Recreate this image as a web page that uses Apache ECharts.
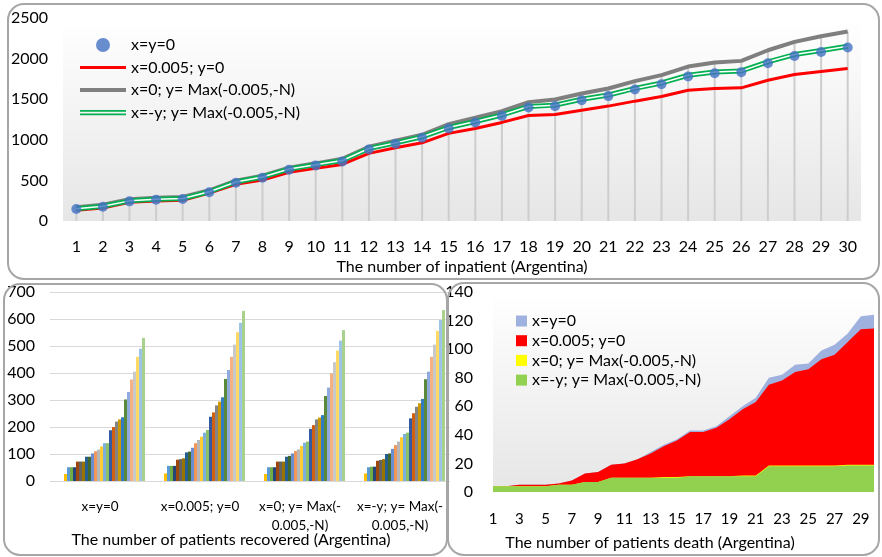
<!DOCTYPE html>
<html>
<head>
<meta charset="utf-8">
<script src="https://cdn.jsdelivr.net/npm/echarts@6/dist/echarts.min.js"></script>
<style>
  html, body { margin: 0; padding: 0; background: #fff; }
  #chart { width: 882px; height: 557px; }
</style>
</head>
<body>
<div id="chart"></div>
<script>
  // day labels (x axis of the inpatient and death panels)
  const days = ['1','2','3','4','5','6','7','8','9','10','11','12','13','14','15',
    '16','17','18','19','20','21','22','23','24','25','26','27','28','29','30'];
  const scenarios = ['x=y=0', 'x=0.005; y=0', 'x=0; y= Max(-0.005,-N)', 'x=-y; y= Max(-0.005,-N)'];

  // inpatient (top panel)
  const inpBase = [148,176,242,262,270,353,471,533,631,685,734,882,951,1025,1140,1214,1295,1398,1415,1488,1538,1620,1685,1780,1820,1833,1943,2033,2082,2136];
  const inpX = [131,160,230,246,254,344,451,504,599,648,697,833,902,963,1079,1140,1214,1300,1312,1365,1415,1476,1533,1611,1632,1640,1734,1804,1841,1878];
  const inpY = [168,201,267,287,295,378,496,557,656,710,766,914,988,1062,1193,1271,1353,1464,1497,1571,1632,1722,1796,1902,1951,1972,2103,2206,2276,2333];
  const inpXY = [152,182,248,268,276,360,480,542,640,694,745,893,962,1037,1152,1226,1306,1410,1427,1500,1552,1633,1700,1795,1836,1848,1960,2050,2100,2152];

  // recovered, one value per day for each scenario (bottom-left panel)
  const recBase = [0,0,0,26,51,51,51,72,72,72,90,90,102,110,116,128,140,140,188,200,220,228,236,302,330,376,405,460,490,530];
  const recX = [0,0,0,28,56,56,56,79,81,84,106,109,123,140,152,164,179,189,238,254,280,294,310,378,411,460,505,551,586,630];
  const recY = [0,0,0,26,51,51,51,72,72,72,90,93,102,111,117,130,142,146,193,207,228,235,244,315,346,399,440,483,520,559];
  const recXY = [0,0,0,28,51,53,53,75,78,81,100,102,119,133,146,162,174,179,232,251,275,288,304,377,405,460,505,556,596,633];

  // deaths (bottom-right panel)
  const deathBase = [4,4,5,5,5,6,8,13,14,19,20,23,28,33,37,43,43,46,53,60,66,80,82,89,90,99,103,111,123,124];
  const deathX = [4,4,5,5,5,6,8,13,14,19,20,23,27,32,36,42,42,45,51,58,63,75,78,84,86,93,96,105,114,114.5];
  const deathY = [4,4,4,4,4,5,5,7,7,10,10,10,10,10.5,10.5,11,11,11,11,11.5,11.5,18.5,18.5,18.5,18.5,18.5,18.5,19,19,19];
  const deathXY = [4,4,4,4,4,5,5,7,7,10,10,10,10,10,10,11,11,11,11,11,11,18,18,18,18,18,18,18.5,18.5,18.5];

  const officeColors = ['#4472C4','#ED7D31','#A5A5A5','#FFC000','#5B9BD5','#70AD47',
    '#264478','#9E480E','#636363','#997300','#255E91','#43682B',
    '#698ED0','#F1975A','#B7B7B7','#FFCD33','#7CAFDD','#8CC168',
    '#335AA1','#D26012','#848484','#CC9A00','#327DC2','#5A8A39',
    '#8FAADC','#F4B183','#C9C9C9','#FFD966','#9DC3E6','#A9D18E'];

  const font = 'Lato';
  const plotBg = {
    type: 'linear', x: 0, y: 0, x2: 0, y2: 1,
    colorStops: [{ offset: 0, color: '#ffffff' }, { offset: 1, color: '#e6e6e6' }]
  };
  const plain = function (v) { return String(v); };

  let recSeries = days.map(function (d, i) {
    return {
      name: 'day ' + d,
      type: 'bar',
      xAxisIndex: 1,
      yAxisIndex: 1,
      barGap: '0%',
      barCategoryGap: '10%',
      itemStyle: { color: officeColors[i] },
      data: [recBase[i], recX[i], recY[i], recXY[i]]
    };
  });

  let chart = echarts.init(document.getElementById('chart'));
  chart.setOption({
    animation: false,
    textStyle: { fontFamily: font },
    graphic: [
      { type: 'rect', shape: { x: 8, y: 4, width: 871, height: 275, r: 16 },
        style: { fill: 'none', stroke: '#a6a6a6', lineWidth: 2 }, z: 100 },
      { type: 'rect', shape: { x: 4, y: 284, width: 443, height: 271, r: 16 },
        style: { fill: 'none', stroke: '#a6a6a6', lineWidth: 2 }, z: 100 },
      { type: 'rect', shape: { x: 448, y: 283, width: 431, height: 272, r: 16 },
        style: { fill: 'none', stroke: '#a6a6a6', lineWidth: 2 }, z: 100 }
    ],
    title: [
      { text: 'The number of inpatient (Argentina)', left: 462, top: 259, textAlign: 'center', padding: 0,
        textStyle: { fontSize: 16, fontWeight: 'normal', color: '#000', fontFamily: font } },
      { text: 'The number of patients recovered (Argentina)', left: 231, top: 532, textAlign: 'center', padding: 0,
        textStyle: { fontSize: 16, fontWeight: 'normal', color: '#000', fontFamily: font } },
      { text: 'The number of patients death (Argentina)', left: 650, top: 535, textAlign: 'center', padding: 0,
        textStyle: { fontSize: 16, fontWeight: 'normal', color: '#000', fontFamily: font } }
    ],
    legend: [
      {
        orient: 'vertical', left: 80, top: 37, padding: 0, itemWidth: 46, itemHeight: 14, itemGap: 6.5,
        textStyle: { fontSize: 16, color: '#000', fontFamily: font },
        data: [
          { name: scenarios[0], icon: 'circle' },
          { name: scenarios[1], icon: 'path://M0,0 M0,5.5L46,5.5L46,8.5L0,8.5Z M46,14' },
          { name: scenarios[2], icon: 'path://M0,0 M0,5L46,5L46,9L0,9Z M46,14' },
          { name: scenarios[3], icon: 'path://M0,0 M0,4.5L46,4.5L46,6.3L0,6.3Z M0,8L46,8L46,9.8L0,9.8Z M46,14' }
        ]
      },
      {
        orient: 'vertical', left: 516, top: 313, padding: 0, itemWidth: 11, itemHeight: 11, itemGap: 3.7,
        icon: 'rect',
        textStyle: { fontSize: 16, color: '#000', fontFamily: font },
        formatter: function (n) { return n.split('|')[1]; },
        data: scenarios.map(function (s) { return 'death|' + s; })
      }
    ],
    grid: [
      { left: 63, right: 21, top: 18, height: 203, show: true, borderWidth: 0, backgroundColor: plotBg },
      { left: 50, width: 400, top: 292, height: 189 },
      { left: 493, right: 8, top: 292, height: 200, show: true, borderWidth: 0, backgroundColor: plotBg }
    ],
    xAxis: [
      { type: 'category', gridIndex: 0, data: days, boundaryGap: true,
        axisLine: { show: false }, axisTick: { show: false },
        axisLabel: { margin: 18, fontSize: 16, color: '#000', interval: 0 } },
      { type: 'category', gridIndex: 1, data: scenarios,
        axisLine: { show: false }, axisTick: { show: false },
        axisLabel: { margin: 16, fontSize: 13.5, color: '#000', interval: 0, lineHeight: 19,
          formatter: function (v) { return v.replace('Max(-', 'Max(-\n'); } } },
      { type: 'category', gridIndex: 2, data: days, boundaryGap: false,
        axisLine: { show: false }, axisTick: { show: false },
        axisLabel: { margin: 20, fontSize: 15, color: '#000', interval: 1 } }
    ],
    yAxis: [
      { type: 'value', gridIndex: 0, min: 0, max: 2500, interval: 500,
        splitLine: { show: false }, axisLine: { show: false },
        axisLabel: { margin: 15, fontSize: 16, color: '#000', formatter: plain } },
      { type: 'value', gridIndex: 1, min: 0, max: 700, interval: 100,
        splitLine: { lineStyle: { color: '#d9d9d9', width: 1 } }, axisLine: { show: false },
        axisLabel: { margin: 15, fontSize: 16, color: '#000', formatter: plain } },
      { type: 'value', gridIndex: 2, min: 0, max: 140, interval: 20,
        splitLine: { show: false }, axisLine: { show: false },
        axisLabel: { margin: 20, fontSize: 16, color: '#000', formatter: plain } }
    ],
    series: [
      // drop lines under the highest curve
      { name: 'drop', type: 'bar', xAxisIndex: 0, yAxisIndex: 0, barWidth: 2, silent: true,
        itemStyle: { color: '#cdcdcd' }, data: inpY, z: 1 },
      { name: scenarios[1], type: 'line', xAxisIndex: 0, yAxisIndex: 0, showSymbol: false, symbol: 'none',
        lineStyle: { color: '#ff0000', width: 3 }, itemStyle: { color: '#ff0000' }, data: inpX, z: 3 },
      { name: scenarios[2], type: 'line', xAxisIndex: 0, yAxisIndex: 0, showSymbol: false, symbol: 'none',
        lineStyle: { color: '#7f7f7f', width: 4 }, itemStyle: { color: '#7f7f7f' }, data: inpY, z: 3 },
      { name: scenarios[3], type: 'line', xAxisIndex: 0, yAxisIndex: 0, showSymbol: false, symbol: 'none',
        lineStyle: { color: '#00b050', width: 5 }, itemStyle: { color: '#00b050' }, data: inpXY, z: 4 },
      { name: 'xy-inner', type: 'line', xAxisIndex: 0, yAxisIndex: 0, showSymbol: false, symbol: 'none', silent: true,
        lineStyle: { color: '#ffffff', width: 1.5 }, data: inpXY, z: 5 },
      { name: scenarios[0], type: 'scatter', xAxisIndex: 0, yAxisIndex: 0, symbolSize: 10,
        itemStyle: { color: '#4472C4' }, data: inpBase, z: 6 }
    ].concat(recSeries).concat([
      { name: 'death|' + scenarios[0], type: 'line', xAxisIndex: 2, yAxisIndex: 2, symbol: 'none',
        lineStyle: { width: 0 }, itemStyle: { color: '#9fb1de' }, areaStyle: { color: '#9fb1de', opacity: 1 }, data: deathBase },
      { name: 'death|' + scenarios[1], type: 'line', xAxisIndex: 2, yAxisIndex: 2, symbol: 'none',
        lineStyle: { width: 0 }, itemStyle: { color: '#ff0000' }, areaStyle: { color: '#ff0000', opacity: 1 }, data: deathX },
      { name: 'death|' + scenarios[2], type: 'line', xAxisIndex: 2, yAxisIndex: 2, symbol: 'none',
        lineStyle: { width: 0 }, itemStyle: { color: '#ffff00' }, areaStyle: { color: '#ffff00', opacity: 1 }, data: deathY },
      { name: 'death|' + scenarios[3], type: 'line', xAxisIndex: 2, yAxisIndex: 2, symbol: 'none',
        lineStyle: { width: 0 }, itemStyle: { color: '#92d050' }, areaStyle: { color: '#92d050', opacity: 1 }, data: deathXY }
    ])
  });
</script>
</body>
</html>
